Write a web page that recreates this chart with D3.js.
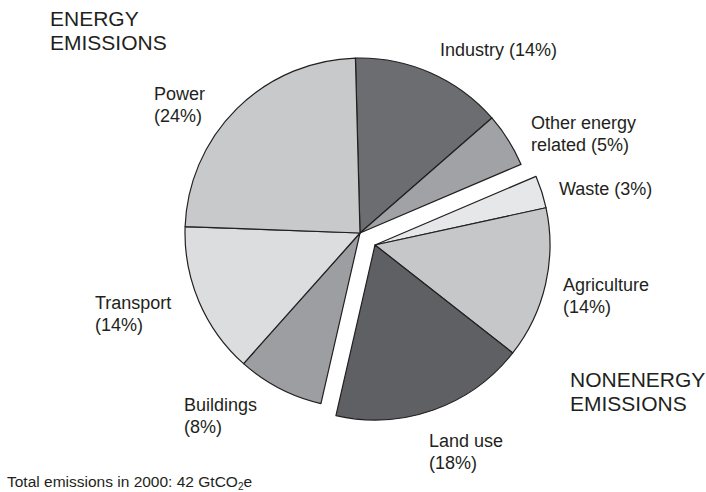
<!DOCTYPE html>
<head>
    <meta charset="utf-8">
    <title>Emissions pie</title>
    <style>
        body { margin: 0; background: #fff; }
        text { font-family: "Liberation Sans", Arial, sans-serif; fill: #231f20; }
    </style>
</head>
<body>
<svg width="706" height="492"></svg>

<script src="https://d3js.org/d3.v7.min.js"></script>
<script>
    // data, clockwise from the top
    var sectors = ["Industry", "Other energy related", "Waste", "Agriculture", "Land use", "Buildings", "Transport", "Power"];
    var shares = [14, 5, 3, 14, 18, 8, 14, 24];
    var groups = ["energy", "energy", "nonenergy", "nonenergy", "nonenergy", "energy", "energy", "energy"];
    var fills = ["#6c6d70", "#a1a2a5", "#e6e7e8", "#c6c7c9", "#5f6064", "#9d9ea1", "#dcdddf", "#c8c9cb"];

    // label lines and where they sit
    var labelLines = [
        ["Industry (14%)"],
        ["Other energy", "related (5%)"],
        ["Waste (3%)"],
        ["Agriculture", "(14%)"],
        ["Land use", "(18%)"],
        ["Buildings", "(8%)"],
        ["Transport", "(14%)"],
        ["Power", "(24%)"]
    ];
    var labelPos = [[440, 56], [531, 129], [559, 195], [563, 291], [429, 447], [184, 411], [95, 309], [154, 100]];

    var svg = d3.select("svg");
    var cx = 360, cy = 233, r = 175;
    var shift = {energy: [0, 0], nonenergy: [15, 12]};

    var deg = Math.PI / 180;
    var pie = d3.pie().sort(null).value(function (d) { return d; })
        .startAngle(-1.5 * deg).endAngle(358.5 * deg);
    var arc = d3.arc().innerRadius(0).outerRadius(r);

    var arcs = pie(shares);

    svg.append("g")
        .selectAll("path")
        .data(arcs)
        .enter().append("path")
        .attr("transform", function (d, i) {
            var s = shift[groups[i]];
            return "translate(" + (cx + s[0]) + "," + (cy + s[1]) + ")";
        })
        .attr("d", arc)
        .attr("fill", function (d, i) { return fills[i]; })
        .attr("stroke", "#231f20")
        .attr("stroke-width", 1.2)
        .attr("stroke-linejoin", "round");

    // slice labels
    var lab = svg.append("g").attr("font-size", 18);
    labelLines.forEach(function (lines, i) {
        var t = lab.append("text")
            .attr("x", labelPos[i][0])
            .attr("y", labelPos[i][1]);
        lines.forEach(function (l, j) {
            t.append("tspan")
                .attr("x", labelPos[i][0])
                .attr("dy", j ? 22 : 0)
                .text(l);
        });
    });

    // group titles
    function title(x, y, lines) {
        var t = svg.append("text").attr("font-size", 21).attr("x", x).attr("y", y);
        lines.forEach(function (l, j) {
            t.append("tspan").attr("x", x).attr("dy", j ? 24 : 0).text(l);
        });
    }
    title(50, 26, ["ENERGY", "EMISSIONS"]);
    title(570, 387, ["NONENERGY", "EMISSIONS"]);

    // footnote
    var foot = svg.append("text")
        .attr("x", 7)
        .attr("y", 487)
        .attr("font-size", 15.5)
        .text("Total emissions in 2000: 42 GtCO");
    foot.append("tspan").attr("font-size", 10).attr("dy", 3).text("2");
    foot.append("tspan").attr("dy", -3).text("e");
</script>
</body>
